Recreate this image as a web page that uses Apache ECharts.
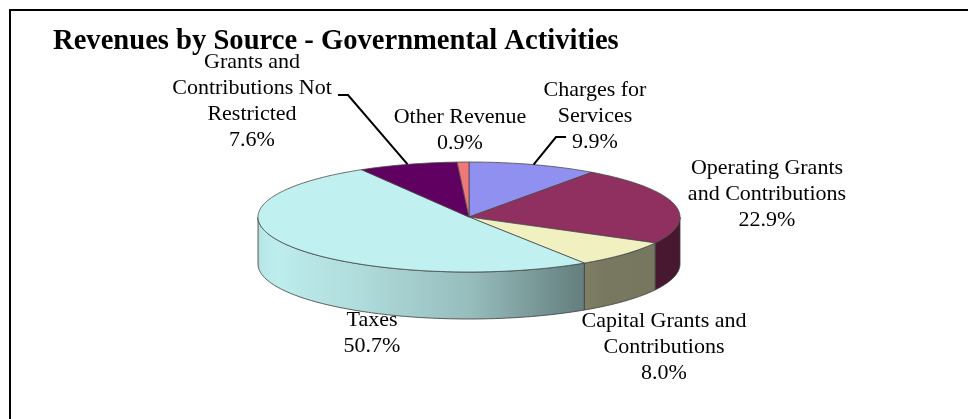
<!DOCTYPE html>
<html>
<head>
<meta charset="utf-8">
<script src="https://cdn.jsdelivr.net/npm/echarts@6/dist/echarts.min.js"></script>
<style>
  html, body { margin: 0; padding: 0; background: #fff; }
  #chart { width: 968px; height: 419px; }
</style>
</head>
<body>
<div id="chart"></div>
<script>
// Revenue sources, in drawing order (clockwise from 12 o'clock)
const categories = [
  'Charges for\nServices',
  'Operating Grants\nand Contributions',
  'Capital Grants and\nContributions',
  'Taxes',
  'Grants and\nContributions Not\nRestricted',
  'Other Revenue'
];
const shares = [9.9, 22.9, 8.0, 50.7, 7.6, 0.9];
const sliceColors = ['#9999FF', '#993366', '#FFFFCC', '#CCFFFF', '#660066', '#FF8080'];

// Label placement: text centre x, text top y, optional leader elbow points
const labelLayout = [
  { x: 595, y: 77, leader: [[556, 137], [566, 137]] },
  { x: 767, y: 155 },
  { x: 664, y: 308 },
  { x: 372, y: 307 },
  { x: 252, y: 49, leader: [[348, 95], [338, 95]] },
  { x: 460, y: 104 }
];

// Ellipse geometry of the tilted pie
const CX = 469, CY = 217, RX = 211, RY = 55, DEPTH = 47;
const FONT = '"Liberation Serif", "Times New Roman", serif';

const total = shares.reduce((a, b) => a + b, 0);
const starts = [];
shares.reduce((acc, v, i) => { starts[i] = acc; return acc + v; }, 0);

function toAngle(v) { return v / total * Math.PI * 2; }
function rim(theta, dy) {
  return [CX + RX * Math.sin(theta), CY - RY * Math.cos(theta) + (dy || 0)];
}
function arcPoints(a, b, dy) {
  const pts = [];
  const n = Math.max(2, Math.ceil(Math.abs(b - a) / (Math.PI / 180)));
  for (let k = 0; k <= n; k++) pts.push(rim(a + (b - a) * k / n, dy));
  return pts;
}
function scaleColor(hex, k) {
  const n = parseInt(hex.slice(1), 16);
  const c = [(n >> 16) & 255, (n >> 8) & 255, n & 255].map(v => Math.round(Math.min(255, v * k)));
  return 'rgb(' + c.join(',') + ')';
}
// Side-wall lighting as a function of angle (degrees clockwise from top)
const shadeTable = [[90, 0.46], [140, 0.47], [152, 0.52], [180, 0.74], [210, 0.86], [245, 0.93], [262, 0.9], [270, 0.82]];
function shadeAt(deg) {
  for (let i = 1; i < shadeTable.length; i++) {
    const [d0, s0] = shadeTable[i - 1], [d1, s1] = shadeTable[i];
    if (deg <= d1) return s0 + (s1 - s0) * (deg - d0) / (d1 - d0);
  }
  return shadeTable[shadeTable.length - 1][1];
}
function sideGradient(hex) {
  const stops = [];
  for (let deg = 270; deg >= 90; deg -= 5) {
    const off = (1 + Math.sin(deg * Math.PI / 180)) / 2;
    stops.push({ offset: off, color: scaleColor(hex, shadeAt(deg)) });
  }
  return new echarts.graphic.LinearGradient(CX - RX, 0, CX + RX, 0, stops, true);
}

const seriesData = shares.map((v, i) => ({ name: categories[i], value: v }));

function renderSide(params, api) {
  const i = params.dataIndex;
  let a = toAngle(starts[i]), b = toAngle(starts[i] + api.value(0));
  a = Math.max(a, Math.PI / 2);
  b = Math.min(b, Math.PI * 1.5);
  if (b <= a) return null;
  const pts = arcPoints(a, b, 0).concat(arcPoints(b, a, DEPTH));
  return {
    type: 'polygon',
    shape: { points: pts },
    style: { fill: sideGradient(sliceColors[i]), stroke: '#3a3a3a', lineWidth: 0.8 }
  };
}

function renderTop(params, api) {
  const i = params.dataIndex;
  const a = toAngle(starts[i]), b = toAngle(starts[i] + api.value(0));
  const pts = [[CX, CY]].concat(arcPoints(a, b, 0));
  return {
    type: 'polygon',
    shape: { points: pts },
    style: { fill: scaleColor(sliceColors[i], 0.94), stroke: '#4a4a4a', lineWidth: 0.8 }
  };
}

function renderLabel(params, api) {
  const i = params.dataIndex;
  const v = api.value(0);
  const lay = labelLayout[i];
  const children = [{
    type: 'text',
    style: {
      text: categories[i] + '\n' + v.toFixed(1) + '%',
      x: lay.x, y: lay.y,
      align: 'center', verticalAlign: 'top',
      font: '22px ' + FONT, lineHeight: 26, fill: '#000'
    }
  }];
  if (lay.leader) {
    const mid = rim(toAngle(starts[i] + v / 2), 0);
    children.push({
      type: 'polyline',
      shape: { points: [mid].concat(lay.leader) },
      style: { stroke: '#000', lineWidth: 2, fill: null }
    });
  }
  return { type: 'group', children };
}

const chart = echarts.init(document.getElementById('chart'), null, { renderer: 'canvas' });
chart.setOption({
  backgroundColor: '#fff',
  animation: false,
  title: {
    text: 'Revenues by Source - Governmental Activities',
    left: 53, top: 27, padding: 0,
    textStyle: { fontFamily: FONT, fontWeight: 'bold', fontSize: 28.6, color: '#000' }
  },
  graphic: [{
    type: 'rect',
    shape: { x: 10, y: 10, width: 1000, height: 500 },
    style: { fill: null, stroke: '#000', lineWidth: 2 },
    z: 0
  }],
  series: [
    { type: 'custom', coordinateSystem: 'none', z: 1, silent: true, data: seriesData, renderItem: renderSide },
    { type: 'custom', coordinateSystem: 'none', z: 2, silent: true, data: seriesData, renderItem: renderTop },
    { type: 'custom', coordinateSystem: 'none', z: 3, silent: true, data: seriesData, renderItem: renderLabel }
  ]
});
</script>
</body>
</html>
